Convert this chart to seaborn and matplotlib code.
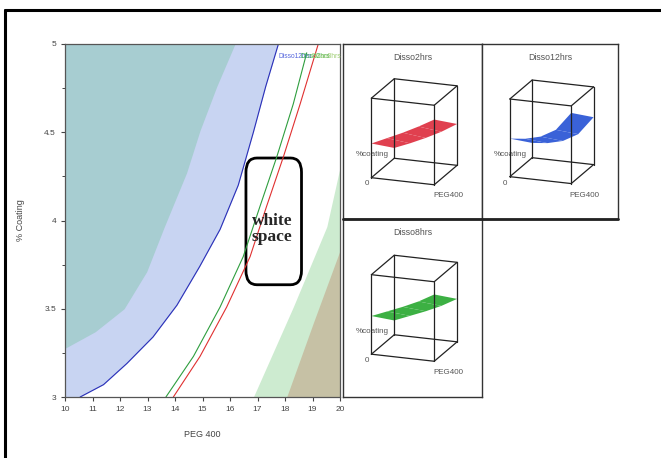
import itertools
import numpy as np
import pandas as pd
import seaborn as sns
import matplotlib.pyplot as plt
from matplotlib.lines import Line2D
from matplotlib.patches import FancyBboxPatch

W, H = 661, 458

# contour plot: boundaries read as (PEG 400, % coating)
teal_peg = [10, 11.1, 12.15, 12.97, 13.6, 14.42, 14.91, 15.52, 16.18]
teal_cov = [3.276, 3.37, 3.50, 3.71, 3.96, 4.27, 4.51, 4.76, 5.0]

blue_peg = [10.55, 11.4, 12.25, 13.2, 14.07, 14.9, 15.64, 16.3, 16.85, 17.3, 17.76]
blue_cov = [3.0, 3.07, 3.19, 3.34, 3.52, 3.74, 3.95, 4.2, 4.5, 4.76, 5.0]

green_peg = [13.67, 14.67, 15.64, 16.48, 17.09, 17.7, 18.3, 18.79]
green_cov = [3.0, 3.23, 3.51, 3.795, 4.08, 4.36, 4.66, 4.95]

red_peg = [13.94, 14.91, 15.88, 16.73, 17.33, 17.94, 18.55, 19.21]
red_cov = [3.0, 3.23, 3.51, 3.795, 4.08, 4.36, 4.66, 5.0]

lgreen_peg = [16.85, 18.3, 19.52, 20.0]
lgreen_cov = [3.0, 3.51, 3.965, 4.3]

olive_peg = [18.06, 19.03, 20.0]
olive_cov = [3.0, 3.42, 3.83]

x_ticks = [10, 11, 12, 13, 14, 15, 16, 17, 18, 19, 20]
y_ticks = [3, 3.5, 4, 4.5, 5]
y_labels = ["3", "3.5", "4", "4.5", "5"]

# small 3d response surfaces (normalised PEG, dissolution at low / high coating)
peg_3d = [0, 0.25, 0.5, 0.75, 1.0]
panels = [
    ("Disso2hrs", "#e0404f", [0.43, 0.52, 0.61, 0.71, 0.82], [0.13, 0.21, 0.30, 0.40, 0.52]),
    ("Disso12hrs", "#3a62d8", [0.49, 0.51, 0.56, 0.67, 0.91], [0.19, 0.21, 0.26, 0.37, 0.61]),
    ("Disso8hrs", "#3cb043", [0.48, 0.56, 0.64, 0.73, 0.84], [0.18, 0.26, 0.34, 0.43, 0.54]),
]


def px_rect(x0, y0, x1, y1):
    return [x0 / W, 1 - y1 / H, (x1 - x0) / W, (y1 - y0) / H]


sns.set_style("ticks")
plt.rcParams["font.family"] = ["Liberation Sans", "DejaVu Sans"]

fig = plt.figure(figsize=(W / 100, H / 100), dpi=100)

# outer frame (top and left only)
fig.add_artist(Line2D([5 / W, 5 / W], [0, 1 - 10 / H], color="black", lw=2.2))
fig.add_artist(Line2D([5 / W, 1], [1 - 10 / H, 1 - 10 / H], color="black", lw=2.2))

ax = fig.add_axes(px_rect(65, 44, 340, 397))
ax.fill_betweenx(blue_cov, 10, blue_peg, color="#c8d4f2", lw=0)
ax.fill_betweenx(teal_cov, 10, teal_peg, color="#a7cdd1", lw=0)
ax.fill_betweenx(lgreen_cov, lgreen_peg, 20, color="#cdebd0", lw=0)
ax.fill_betweenx(olive_cov, olive_peg, 20, color="#c6c1a5", lw=0)

lines = pd.DataFrame({
    "peg": blue_peg + green_peg + red_peg,
    "cov": blue_cov + green_cov + red_cov,
    "series": ["blue"] * len(blue_peg) + ["green"] * len(green_peg) + ["red"] * len(red_peg),
})
sns.lineplot(data=lines, x="peg", y="cov", hue="series", sort=False, estimator=None,
             palette={"blue": "#2a2fb8", "green": "#2e9e3e", "red": "#e03030"},
             lw=0.8, legend=False, ax=ax)

ax.text(17.75, 4.93, "Disso12hrs", color="#5566dd", fontsize=4.8, va="center")
ax.text(18.55, 4.93, "Disso2hrs", color="#33aa44", fontsize=4.8, va="center")
ax.text(18.95, 4.93, "Disso8hrs", color="#9ccc70", fontsize=4.8, va="center")

box = FancyBboxPatch((16.6, 3.64), 1.98, 0.71, boxstyle="round,pad=0.02,rounding_size=0.4",
                     mutation_aspect=0.2, fill=False, ec="black", lw=2)
ax.add_patch(box)
ax.text(17.52, 3.95, "white\nspace", fontsize=12.5, fontweight="bold", ha="center", va="center",
        family=["Liberation Serif", "DejaVu Serif"], linespacing=1.0)

ax.set_xlim(10, 20)
ax.set_ylim(3, 5)
ax.set_xticks(x_ticks)
ax.set_yticks(y_ticks)
ax.set_yticklabels(y_labels)
ax.set_yticks([3.25, 3.75, 4.25, 4.75], minor=True)
ax.tick_params(labelsize=6, colors="#444444", length=3, width=0.8)
ax.tick_params(which="minor", length=2)
ax.set_xlabel("PEG 400", fontsize=6.5, color="#444444", labelpad=12)
ax.set_ylabel("% Coating", fontsize=6.5, color="#444444", labelpad=14)
for s in ax.spines.values():
    s.set_color("#555555")
    s.set_linewidth(0.9)

# small 3d panels
frames = [(343, 44, 482, 219), (482, 44, 618, 219), (343, 219, 482, 397)]
for (title, color, hi, lo), (x0, y0, x1, y1) in zip(panels, frames):
    fa = fig.add_axes(px_rect(x0, y0, x1, y1))
    fa.set_xticks([])
    fa.set_yticks([])
    for s in fa.spines.values():
        s.set_color("#333333")
        s.set_linewidth(1)
    fa.text(0.5, 0.925, title, transform=fa.transAxes, ha="center", va="center",
            fontsize=6.3, color="#555555")
    fa.text(0.09, 0.37, "%coating", transform=fa.transAxes, ha="left", va="center",
            fontsize=5.8, color="#555555")
    fa.text(0.17, 0.205, "0", transform=fa.transAxes, ha="center", va="center",
            fontsize=5.8, color="#555555")
    fa.text(0.755, 0.137, "PEG400", transform=fa.transAxes, ha="center", va="center",
            fontsize=5.8, color="#555555")

    a3 = fig.add_axes(px_rect(x0 + 5, y0 + 20, x1 - 5, y1 - 16), projection="3d")
    a3.set_proj_type("ortho")
    a3.view_init(elev=18, azim=-70)
    a3.set_box_aspect((1, 1, 1.25), zoom=0.95)
    a3.set_xlim(0, 1)
    a3.set_ylim(0, 1)
    a3.set_zlim(0, 1)
    a3.set_axis_off()
    a3.patch.set_alpha(0)
    for p, q in itertools.combinations(itertools.product([0, 1], repeat=3), 2):
        if sum(abs(np.array(p) - np.array(q))) == 1:
            a3.plot(*zip(p, q), color="#222222", lw=0.9)
    X, Y = np.meshgrid(peg_3d, [0, 1])
    Z = np.array([hi, lo])
    a3.plot_surface(X, Y, Z, color=color, shade=False, lw=0, antialiased=True)

# thick divider under the top row
fig.add_artist(Line2D([343 / W, 618 / W], [1 - 219 / H, 1 - 219 / H], color="#222222", lw=2))

fig.savefig("out.png", dpi=100)
